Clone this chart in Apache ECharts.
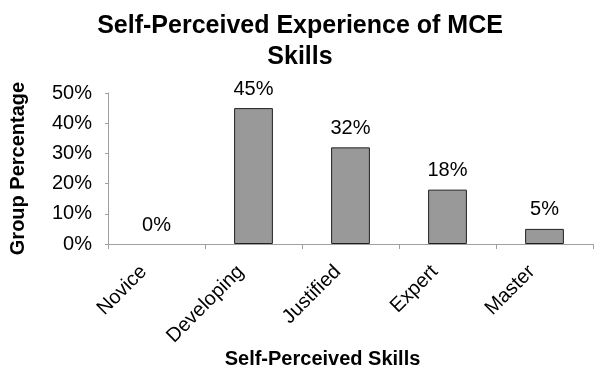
<!DOCTYPE html>
<html>
<head>
<meta charset="utf-8">
<script src="https://cdn.jsdelivr.net/npm/echarts@6/dist/echarts.min.js"></script>
<style>
  html, body { margin: 0; padding: 0; background: #fff; }
  #chart { width: 600px; height: 377px; }
</style>
</head>
<body>
<div id="chart"></div>
<script>
// chart data
const categories = ['Novice', 'Developing', 'Justified', 'Expert', 'Master'];
const groupPercent = [0, 45, 32, 18, 5];
const yTicks = [0, 10, 20, 30, 40, 50];

const fontFamily = '"Liberation Sans", Arial, sans-serif';
const axisGray = '#a0a0a0';

const mychart = echarts.init(document.getElementById('chart'));

// zero bars have no visible outline in the original
const barData = groupPercent.map((v) => ({
  value: v,
  itemStyle: v === 0 ? { borderWidth: 0 } : {},
}));

const option = {
  animation: false,
  textStyle: { fontFamily: fontFamily },
  title: {
    text: 'Self-Perceived Experience of MCE\nSkills',
    left: 'center',
    top: 6,
    textStyle: {
      fontFamily: fontFamily,
      fontSize: 25,
      fontWeight: 'bold',
      color: '#000',
      lineHeight: 31,
    },
  },
  grid: {
    left: 108,
    right: 7,
    top: 93,
    bottom: 133,
    containLabel: false,
  },
  xAxis: {
    type: 'category',
    data: categories,
    name: 'Self-Perceived Skills',
    nameLocation: 'middle',
    nameGap: 102,
    nameTextStyle: {
      fontFamily: fontFamily,
      fontSize: 20,
      fontWeight: 'bold',
      color: '#000',
      padding: [0, 56, 0, 0],
    },
    axisLine: { lineStyle: { color: axisGray, width: 1 } },
    axisTick: { show: true, length: 5, lineStyle: { color: axisGray } },
    axisLabel: {
      rotate: 45,
      fontSize: 20,
      color: '#000',
      margin: 12,
      interval: 0,
      padding: [0, 18, 0, 0],
    },
  },
  yAxis: {
    type: 'value',
    min: yTicks[0],
    max: yTicks[yTicks.length - 1],
    interval: 10,
    name: 'Group Percentage',
    nameLocation: 'middle',
    nameGap: 80,
    nameTextStyle: {
      fontFamily: fontFamily,
      fontSize: 20,
      fontWeight: 'bold',
      color: '#000',
    },
    axisLine: { show: true, lineStyle: { color: axisGray, width: 1 } },
    axisTick: { show: true, length: 3, lineStyle: { color: axisGray } },
    splitLine: { show: false },
    axisLabel: {
      fontSize: 20,
      color: '#000',
      margin: 16,
      formatter: '{value}%',
    },
  },
  series: [
    {
      type: 'bar',
      data: barData,
      barWidth: '40%',
      itemStyle: {
        color: '#999999',
        borderColor: '#222',
        borderWidth: 1,
      },
      label: {
        show: true,
        position: 'top',
        distance: 9,
        fontSize: 20,
        color: '#000',
        formatter: '{c}%',
      },
    },
  ],
};

mychart.setOption(option);
</script>
</body>
</html>
